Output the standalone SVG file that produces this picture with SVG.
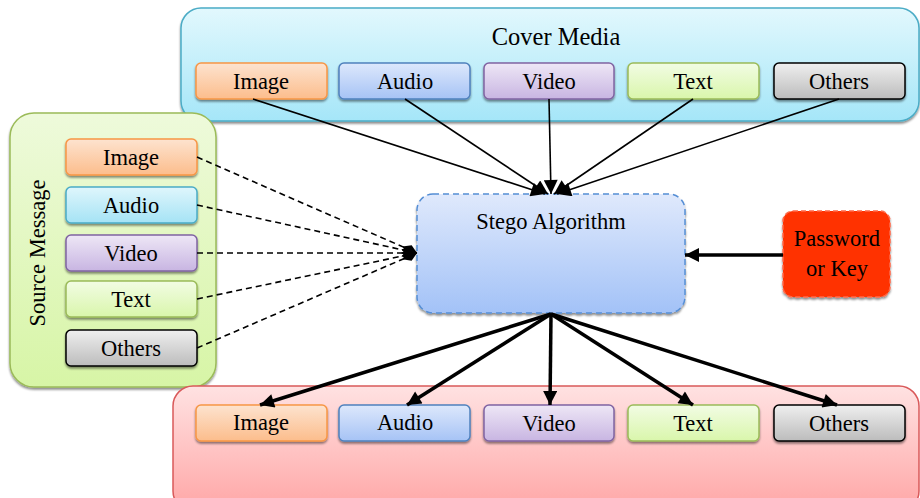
<svg xmlns="http://www.w3.org/2000/svg" width="920" height="498" viewBox="0 0 920 498">
<defs>
<linearGradient id="gCover" x1="0" y1="0" x2="0" y2="1"><stop offset="0" stop-color="#e2f8fd"/><stop offset="1" stop-color="#a5e6f8"/></linearGradient>
<linearGradient id="gSrc" x1="0" y1="0" x2="0" y2="1"><stop offset="0" stop-color="#eefadb"/><stop offset="1" stop-color="#d7f5a6"/></linearGradient>
<linearGradient id="gOut" x1="0" y1="0" x2="0" y2="1"><stop offset="0" stop-color="#ffe2e2"/><stop offset="1" stop-color="#ffa6a6"/></linearGradient>
<linearGradient id="gStego" x1="0" y1="0" x2="0" y2="1"><stop offset="0" stop-color="#dfe9fc"/><stop offset="1" stop-color="#a3c2f7"/></linearGradient>
<linearGradient id="gImg" x1="0" y1="0" x2="0" y2="1"><stop offset="0" stop-color="#fde3cf"/><stop offset="1" stop-color="#fcbd8c"/></linearGradient>
<linearGradient id="gAud" x1="0" y1="0" x2="0" y2="1"><stop offset="0" stop-color="#dde8fc"/><stop offset="1" stop-color="#a6c3f5"/></linearGradient>
<linearGradient id="gAudC" x1="0" y1="0" x2="0" y2="1"><stop offset="0" stop-color="#dff6fc"/><stop offset="1" stop-color="#a5e3f5"/></linearGradient>
<linearGradient id="gVid" x1="0" y1="0" x2="0" y2="1"><stop offset="0" stop-color="#eee7f6"/><stop offset="1" stop-color="#c8b5e2"/></linearGradient>
<linearGradient id="gTxt" x1="0" y1="0" x2="0" y2="1"><stop offset="0" stop-color="#f2fce4"/><stop offset="1" stop-color="#d9f6ab"/></linearGradient>
<linearGradient id="gOth" x1="0" y1="0" x2="0" y2="1"><stop offset="0" stop-color="#efefef"/><stop offset="1" stop-color="#bcbcbc"/></linearGradient>
<marker id="aTop" viewBox="0 0 10 10" refX="10" refY="5" markerWidth="16" markerHeight="14" orient="auto" markerUnits="userSpaceOnUse"><path d="M0,0 L10,5 L0,10 z" fill="#000"/></marker>
<marker id="aThick" viewBox="0 0 10 10" refX="10" refY="5" markerWidth="16" markerHeight="14" orient="auto" markerUnits="userSpaceOnUse"><path d="M0,0 L10,5 L0,10 z" fill="#000"/></marker>
<marker id="aDia" viewBox="0 0 16 10" refX="16" refY="5" markerWidth="16" markerHeight="14" orient="auto" markerUnits="userSpaceOnUse"><path d="M0,5 L8,0 L16,5 L8,10 z" fill="#000"/></marker>
<filter id="sh" x="-5%" y="-5%" width="110%" height="120%"><feDropShadow dx="0" dy="2" stdDeviation="0.8" flood-color="#000" flood-opacity="0.45"/></filter>
</defs>
<style>
text{font-family:"Liberation Serif","Times New Roman",serif;fill:#000;text-anchor:middle}
.lbl{font-size:22.5px}
.box{stroke-width:1.5;filter:url(#sh)}
.img{fill:url(#gImg);stroke:#f79646}
.aud{fill:url(#gAud);stroke:#4f81bd}
.audc{fill:url(#gAudC);stroke:#4bacc6}
.vid{fill:url(#gVid);stroke:#8064a2}
.txt{fill:url(#gTxt);stroke:#9bbb59}
.oth{fill:url(#gOth);stroke:#000}
.thin{stroke:#000;stroke-width:1.6;fill:none}
.thick{stroke:#000;stroke-width:3.5;fill:none}
.dash{stroke:#000;stroke-width:1.6;fill:none;stroke-dasharray:6,4}
</style>

<g id="cover-media">
<rect x="181" y="8" width="738" height="113" rx="20" fill="url(#gCover)" stroke="#4bacc6" stroke-width="1.5" filter="url(#sh)"/>
<text x="556" y="45" style="font-size:24.5px">Cover Media</text>
</g>
<g id="cover-image"><rect class="box img" x="196" y="63" width="131" height="36" rx="5"/><text class="lbl" x="261" y="89">Image</text></g>
<g id="cover-audio"><rect class="box aud" x="339" y="63" width="131" height="36" rx="5"/><text class="lbl" x="405" y="89">Audio</text></g>
<g id="cover-video"><rect class="box vid" x="484" y="63" width="130" height="36" rx="5"/><text class="lbl" x="549" y="89">Video</text></g>
<g id="cover-text"><rect class="box txt" x="628" y="63" width="131" height="36" rx="5"/><text class="lbl" x="693" y="89">Text</text></g>
<g id="cover-others"><rect class="box oth" x="774" y="63" width="131" height="36" rx="5"/><text class="lbl" x="839" y="89">Others</text></g>

<g id="source-message">
<rect x="10" y="113" width="206" height="274" rx="24" fill="url(#gSrc)" stroke="#9bbb59" stroke-width="1.5" filter="url(#sh)"/>
<text x="0" y="0" transform="translate(45,253) rotate(-90)" style="font-size:22.5px">Source Message</text>
</g>
<g id="src-image"><rect class="box img" x="66" y="139" width="131" height="36" rx="5"/><text class="lbl" x="131" y="165">Image</text></g>
<g id="src-audio"><rect class="box audc" x="66" y="187" width="131" height="36" rx="5"/><text class="lbl" x="131" y="213">Audio</text></g>
<g id="src-video"><rect class="box vid" x="66" y="235" width="131" height="36" rx="5"/><text class="lbl" x="131" y="261">Video</text></g>
<g id="src-text"><rect class="box txt" x="66" y="281" width="131" height="36" rx="5"/><text class="lbl" x="131" y="307">Text</text></g>
<g id="src-others"><rect class="box oth" x="66" y="330" width="131" height="36" rx="5"/><text class="lbl" x="131" y="356">Others</text></g>

<g id="stego-algorithm">
<rect x="417" y="194" width="268" height="119" rx="16" fill="url(#gStego)" stroke="#558ed5" stroke-width="1.5" stroke-dasharray="6,4" filter="url(#sh)"/>
<text class="lbl" x="551" y="229">Stego Algorithm</text>
</g>

<g id="password-key">
<rect x="783" y="211" width="107" height="86" rx="10" fill="#ff3300" stroke="#ff6a4a" stroke-width="1.5" stroke-dasharray="5,3" filter="url(#sh)"/>
<text class="lbl" x="837" y="246">Password</text>
<text class="lbl" x="837" y="276">or Key</text>
</g>

<g id="output-media">
<rect x="173" y="386" width="746" height="125" rx="20" fill="url(#gOut)" stroke="#d9595a" stroke-width="1.5"/>
</g>
<g id="out-image"><rect class="box img" x="196" y="405" width="131" height="36" rx="5"/><text class="lbl" x="261" y="430">Image</text></g>
<g id="out-audio"><rect class="box aud" x="339" y="405" width="131" height="36" rx="5"/><text class="lbl" x="405" y="430">Audio</text></g>
<g id="out-video"><rect class="box vid" x="484" y="405" width="130" height="36" rx="5"/><text class="lbl" x="549" y="431">Video</text></g>
<g id="out-text"><rect class="box txt" x="628" y="405" width="131" height="36" rx="5"/><text class="lbl" x="693" y="431">Text</text></g>
<g id="out-others"><rect class="box oth" x="774" y="405" width="131" height="36" rx="5"/><text class="lbl" x="839" y="431">Others</text></g>

<g id="connectors">
<line class="thin" x1="253" y1="99" x2="545" y2="194" marker-end="url(#aTop)"/>
<line class="thin" x1="405" y1="99" x2="548" y2="194" marker-end="url(#aTop)"/>
<line class="thin" x1="549" y1="99" x2="551" y2="194" marker-end="url(#aTop)"/>
<line class="thin" x1="693" y1="99" x2="554" y2="194" marker-end="url(#aTop)"/>
<line class="thin" x1="839" y1="99" x2="557" y2="194" marker-end="url(#aTop)"/>

<line class="dash" x1="197" y1="157" x2="417" y2="253" marker-end="url(#aDia)"/>
<line class="dash" x1="197" y1="205" x2="417" y2="253" marker-end="url(#aDia)"/>
<line class="dash" x1="197" y1="253" x2="417" y2="253" marker-end="url(#aDia)"/>
<line class="dash" x1="197" y1="299" x2="417" y2="253" marker-end="url(#aDia)"/>
<line class="dash" x1="197" y1="348" x2="417" y2="253" marker-end="url(#aDia)"/>

<line class="thick" x1="783" y1="255" x2="685" y2="255" marker-end="url(#aThick)"/>

<line class="thick" x1="551" y1="314" x2="260" y2="405" marker-end="url(#aThick)"/>
<line class="thick" x1="551" y1="314" x2="407" y2="405" marker-end="url(#aThick)"/>
<line class="thick" x1="551" y1="314" x2="550" y2="405" marker-end="url(#aThick)"/>
<line class="thick" x1="551" y1="314" x2="693" y2="405" marker-end="url(#aThick)"/>
<line class="thick" x1="551" y1="314" x2="837" y2="405" marker-end="url(#aThick)"/>
</g>
</svg>
